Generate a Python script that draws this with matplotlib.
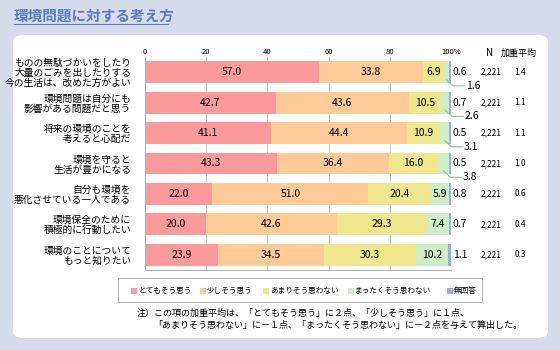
import matplotlib.pyplot as plt
import numpy as np
from matplotlib.patches import FancyBboxPatch, Rectangle
from matplotlib.transforms import blended_transform_factory

plt.rcParams["font.family"] = ["Noto Sans CJK JP", "DejaVu Sans"]

# ================================
# %% Data
# ++++++++++++++++++++++++++++++++

title = "環境問題に対する考え方"
items = [
    "ものの無駄づかいをしたり\n大量のごみを出したりする\n今の生活は、改めた方がよい",
    "環境問題は自分にも\n影響がある問題だと思う",
    "将来の環境のことを\n考えると心配だ",
    "環境を守ると\n生活が豊かになる",
    "自分も環境を\n悪化させている一人である",
    "環境保全のために\n積極的に行動したい",
    "環境のことについて\nもっと知りたい",
]
series_names = ["とてもそう思う", "少しそう思う", "あまりそう思わない", "まったくそう思わない", "無回答"]
very = [57.0, 42.7, 41.1, 43.3, 22.0, 20.0, 23.9]
some = [33.8, 43.6, 44.4, 36.4, 51.0, 42.6, 34.5]
not_much = [6.9, 10.5, 10.9, 16.0, 20.4, 29.3, 30.3]
not_at_all = [1.6, 2.6, 3.1, 3.8, 5.9, 7.4, 10.2]
no_answer = [0.6, 0.7, 0.5, 0.5, 0.8, 0.7, 1.1]
n_resp = ["2,221"] * 7
weighted_avg = ["1.4", "1.1", "1.1", "1.0", "0.6", "0.4", "0.3"]
note_1 = "注）この項の加重平均は、「とてもそう思う」に２点、「少しそう思う」に１点、"
note_2 = "「あまりそう思わない」に－１点、「まったくそう思わない」に－２点を与えて算出した。"

colors = ["#fb9a9a", "#fecb98", "#efe68e", "#cdeec6", "#9dabe2"]
small_cut = 5.0  # segments narrower than this get an outside label

# ================================
# %% Figure and panel
# ++++++++++++++++++++++++++++++++

W, H = 560, 350
fig = plt.figure(figsize=(W / 100, H / 100), dpi=100)
fig.patch.set_facecolor("#d6dce9")

def fx(px):
    return px / W

def fy(py):
    return 1 - py / H

panel = FancyBboxPatch((fx(13), fy(338)), fx(548) - fx(13), fy(35) - fy(338),
                       boxstyle="round,pad=0,rounding_size=0.02",
                       transform=fig.transFigure, facecolor="white", edgecolor="none", zorder=-2)
fig.patches.append(panel)

fig.text(fx(14), fy(16), title, fontsize=10.5, fontweight="bold", color="#5b7cc0",
         ha="left", va="center")
fig.add_artist(plt.Line2D([fx(14), fx(168)], [fy(24), fy(24)], transform=fig.transFigure,
                          color="#5b7cc0", lw=0.8))

# ================================
# %% Stacked bars
# ++++++++++++++++++++++++++++++++

ax = fig.add_axes([fx(145), fy(270), fx(451) - fx(145), fy(57) - fy(270)])
ax.set_facecolor("none")
n = len(items)
y = np.arange(n)
data = np.array([very, some, not_much, not_at_all, no_answer])
left = np.zeros(n)
for k in range(len(series_names)):
    ax.barh(y, data[k], left=left, height=0.72, color=colors[k], zorder=2)
    for i in range(n):
        v = data[k, i]
        cx = left[i] + v / 2
        if k < 3 or (k == 3 and v >= small_cut):
            ax.text(cx, y[i], f"{v:.1f}", ha="center", va="center", fontsize=7.5, zorder=3)
        elif k == 3:
            ax.plot([cx, cx + 2.2, cx + 6], [y[i] + 0.25, y[i] + 0.45, y[i] + 0.45],
                    color="#7cc47c", lw=0.7, clip_on=False, zorder=3)
            ax.text(cx + 6.3, y[i] + 0.45, f"{v:.1f}", ha="left", va="center",
                    fontsize=7.5, clip_on=False)
        else:
            ax.text(100.6, y[i], f"{v:.1f}", ha="left", va="center", fontsize=7.5, clip_on=False)
    left += data[k]

ax.set_xlim(0, 100)
ax.set_ylim(n - 0.5, -0.5)
ax.xaxis.tick_top()
ax.set_xticks(np.arange(0, 101, 20))
ax.set_xticklabels(["0", "20", "40", "60", "80", "100%"])
ax.tick_params(axis="x", length=0, labelsize=5.5, pad=1)
ax.set_yticks(y)
ax.set_yticklabels(items, fontsize=7, linespacing=1.0)
ax.tick_params(axis="y", length=0, pad=10)
ax.grid(axis="x", color="#c4c4c4", lw=0.7, zorder=1)
for s in ["top", "right"]:
    ax.spines[s].set_visible(False)
for s in ["left", "bottom"]:
    ax.spines[s].set_color("#b0b0b0")
    ax.spines[s].set_linewidth(0.7)

# ================================
# %% N and weighted average columns
# ++++++++++++++++++++++++++++++++

tr = blended_transform_factory(fig.transFigure, ax.transData)
fig.text(fx(490), fy(53), "N", ha="center", va="center", fontsize=7)
fig.text(fx(519), fy(53), "加重平均", ha="center", va="center", fontsize=6.5)
for i in range(n):
    ax.text(fx(491), y[i], n_resp[i], transform=tr, ha="center", va="center", fontsize=6)
    ax.text(fx(520), y[i], weighted_avg[i], transform=tr, ha="center", va="center", fontsize=6)

# ================================
# %% Legend box and note
# ++++++++++++++++++++++++++++++++

fig.patches.append(Rectangle((fx(118), fy(302)), fx(482) - fx(118), fy(278) - fy(302),
                             transform=fig.transFigure, facecolor="white",
                             edgecolor="#b8b8b8", lw=0.8, zorder=-1))
legend_x = [131, 200, 263, 348, 447]
for k, name in enumerate(series_names):
    fig.patches.append(Rectangle((fx(legend_x[k]), fy(294)), fx(6) - fx(0), fy(288) - fy(294),
                                 transform=fig.transFigure, facecolor=colors[k], edgecolor="none"))
    fig.text(fx(legend_x[k] + 7), fy(291), name, ha="left", va="center", fontsize=5.5)

fig.text(fx(137), fy(313), note_1, ha="left", va="center", fontsize=6.5)
fig.text(fx(153), fy(325), note_2, ha="left", va="center", fontsize=6.5)

fig.savefig("out.png", dpi=100)
